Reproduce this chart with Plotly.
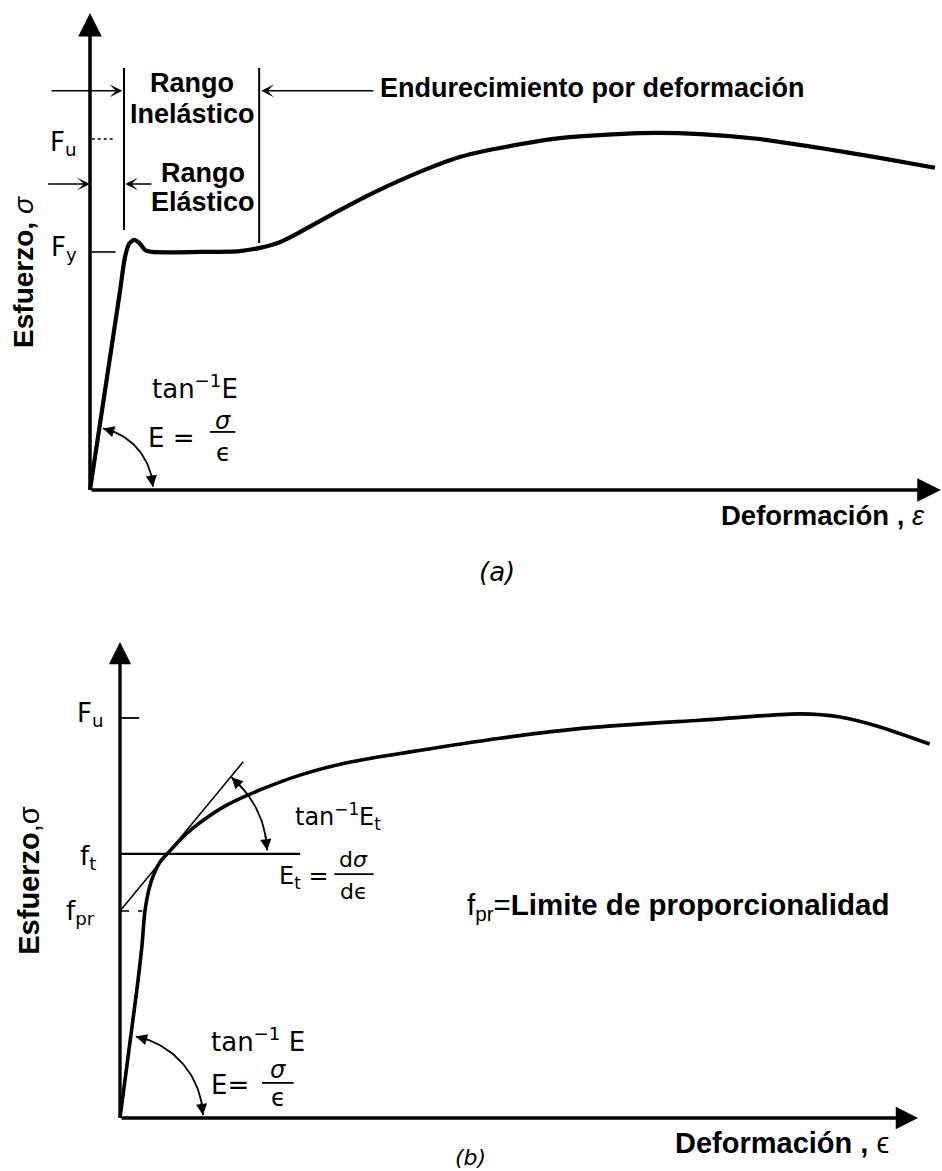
import numpy as np
import plotly.graph_objects as go

# ---------------- data (arbitrary units) ----------------
# Panel (a): acero con punto de fluencia definido
a_strain = [0, 3.5, 4.1, 4.6, 5.2, 5.8, 6.5, 7.3, 12.9, 17.6, 20.0, 22.4, 24.7, 29.4,
            33.5, 38.8, 43.5, 48.2, 55.3, 64.7, 71.8, 78.8, 85.9, 92.9, 99.4]
a_stress = [0, 43.8, 51.6, 54.7, 55.6, 54.9, 53.3, 52.9, 52.9, 53.1, 53.8, 55.1, 57.3, 62.2,
            66.2, 70.7, 74.0, 76.0, 78.2, 79.3, 79.1, 78.0, 76.0, 73.8, 71.6]
a_Fy = 52.9
a_Fu = 78.0
a_elastic_end = 4.0      # fin del rango elástico
a_inelastic_end = 19.9   # fin del rango inelástico

# Panel (b): acero sin punto de fluencia definido
b_strain = [0, 2.1, 2.75, 3.1, 3.6, 4.1, 5.0, 5.9, 7.5, 9.1, 11.3, 13.4, 17.5, 22.5,
            28.8, 36.1, 47.5, 58.4, 72.5, 85.1, 90.0, 95.0, 101.2]
b_stress = [0, 28.4, 38.4, 45.8, 50.7, 53.6, 56.9, 58.7, 61.8, 64.4, 67.3, 69.6, 72.9, 76.2,
            79.1, 81.3, 84.4, 86.7, 88.4, 89.8, 89.1, 86.9, 83.1]
b_Fu = 88.9
b_ft = 58.7
b_fpr = 46.0
b_t_strain = 5.9          # punto de tangencia (deformación)

# pixel per unit (for circular arcs on anisotropic axes)
SXA, SYA = 8.5, 4.5
SXB, SYB = 8.0, 4.5

BOLD = "Liberation Sans, Arial, sans-serif"
ROUND = "DejaVu Sans, Noto Sans, sans-serif"

fig = go.Figure()

# curves
fig.add_trace(go.Scatter(x=a_strain, y=a_stress, mode="lines", xaxis="x", yaxis="y",
                         line=dict(color="black", width=4.2, shape="spline", smoothing=0.7),
                         hoverinfo="skip", showlegend=False))
fig.add_trace(go.Scatter(x=b_strain, y=b_stress, mode="lines", xaxis="x2", yaxis="y2",
                         line=dict(color="black", width=3.6, shape="spline", smoothing=0.7),
                         hoverinfo="skip", showlegend=False))

# tangent line in (b)
slope = (b_ft - b_fpr) / b_t_strain
tx = [0, 15.4]
fig.add_trace(go.Scatter(x=tx, y=[b_fpr + slope * v for v in tx], mode="lines", xaxis="x2", yaxis="y2",
                         line=dict(color="black", width=1.6), hoverinfo="skip", showlegend=False))


def arc(cx, cy, r, t0, t1, sx, sy, n=40):
    t = np.radians(np.linspace(t0, t1, n))
    return cx + r * np.cos(t) / sx, cy + r * np.sin(t) / sy


def arrow(x, y, ax, ay, xa, ya, w, size, head):
    fig.add_annotation(x=x, y=y, ax=ax, ay=ay, xref=xa, yref=ya, axref=xa, ayref=ya,
                       text="", showarrow=True, arrowhead=head, arrowsize=size,
                       arrowwidth=w, arrowcolor="black", standoff=0, startstandoff=0)


def add_arc(cx, cy, r, t0, t1, sx, sy, xa, ya):
    x, y = arc(cx, cy, r, t0, t1, sx, sy)
    fig.add_trace(go.Scatter(x=x, y=y, mode="lines", xaxis=xa, yaxis=ya,
                             line=dict(color="black", width=1.8), hoverinfo="skip", showlegend=False))
    for a_tip, a_tail in ((t0, t0 + 10), (t1, t1 - 10)):
        (xt,), (yt,) = arc(cx, cy, r, a_tip, a_tip, sx, sy, 1)
        (xb,), (yb,) = arc(cx, cy, r, a_tail, a_tail, sx, sy, 1)
        arrow(xt, yt, xb, yb, xa, ya, 1.6, 1.4, 2)


def line(x0, y0, x1, y1, xa, ya, w=2, dash="solid"):
    fig.add_shape(type="line", x0=x0, y0=y0, x1=x1, y1=y1, xref=xa, yref=ya,
                  line=dict(color="black", width=w, dash=dash))


def text(x, y, s, xa, ya, size=27, fam=BOLD, angle=0, xanchor="center"):
    fig.add_annotation(x=x, y=y, xref=xa, yref=ya, text=s, showarrow=False,
                       font=dict(family=fam, size=size, color="black"),
                       textangle=angle, xanchor=xanchor, yanchor="middle")


# ---------------- panel (a) ----------------
arrow(0, 106, 0, 0, "x", "y", 3.5, 1.35, 2)            # eje de esfuerzo
arrow(100.1, 0, 0, 0, "x", "y", 3.5, 1.35, 2)          # eje de deformación
line(0.2, a_Fy, 3.0, a_Fy, "x", "y", 1.6)
line(0.2, a_Fu, 3.0, a_Fu, "x", "y", 1.6, "dot")
line(a_elastic_end, 57.8, a_elastic_end, 93.8, "x", "y", 2)
line(a_inelastic_end, 54.9, a_inelastic_end, 93.8, "x", "y", 2)
arrow(a_elastic_end - 0.2, 88.7, -4.7, 88.7, "x", "y", 1.5, 1.4, 3)
arrow(0, 68.0, -5.1, 68.0, "x", "y", 1.5, 1.4, 3)
arrow(a_elastic_end + 0.15, 68.0, 7.4, 68.0, "x", "y", 1.5, 1.4, 3)
arrow(a_inelastic_end + 0.25, 88.7, 33.5, 88.7, "x", "y", 1.5, 1.4, 3)
add_arc(0, 0, 63, 3, 78, SXA, SYA, "x", "y")

text(12.0, 90.4, "<b>Rango</b>", "x", "y")
text(12.0, 83.6, "<b>Inelástico</b>", "x", "y")
text(13.3, 70.4, "<b>Rango</b>", "x", "y")
text(13.3, 63.9, "<b>Elástico</b>", "x", "y")
text(59.1, 89.3, "<b>Endurecimiento por deformación</b>", "x", "y")
text(-3.1, 77.0, "F<sub>u</sub>", "x", "y", 26, ROUND)
text(-3.1, 53.6, "F<sub>y</sub>", "x", "y", 26, ROUND)
text(12.3, 22.9, "tan<sup>−1</sup>E", "x", "y", 26, ROUND)
text(9.5, 11.6, "E =", "x", "y", 26, ROUND)
text(15.65, 15.4, "<i>σ</i>", "x", "y", 24, ROUND)
text(15.65, 8.3, "ϵ", "x", "y", 24, ROUND)
line(14.1, 12.9, 17.1, 12.9, "x", "y", 1.8)
text(-7.8, 48.4, "<b>Esfuerzo,</b> <i>σ</i>", "x", "y", 28, BOLD, -90)
text(86.2, -5.6, "<b>Deformación</b> <b>,</b> <i>ε</i>", "x", "y", 27.5)
text(47.9, -18.2, "<i>(a)</i>", "x", "y", 26, ROUND)

# ---------------- panel (b) ----------------
arrow(0, 105.8, 0, 0, "x2", "y2", 3.3, 1.35, 2)
arrow(99.75, 0, 0, 0, "x2", "y2", 3.3, 1.35, 2)
line(0, b_Fu, 2.4, b_Fu, "x2", "y2", 1.8)
line(0, b_ft, 22.5, b_ft, "x2", "y2", 2.2)
line(0, b_fpr, 2.8, b_fpr, "x2", "y2", 1.4, "dash")
add_arc(0, 0, 83, 2, 79, SXB, SYB, "x2", "y2")
add_arc(b_t_strain, b_ft, 100, 2, 50, SXB, SYB, "x2", "y2")

text(-3.75, 89.6, "F<sub>u</sub>", "x2", "y2", 26, ROUND)
text(-4.0, 57.8, "f<sub>t</sub>", "x2", "y2", 26, ROUND)
text(-5.0, 45.6, "f<sub>pr</sub>", "x2", "y2", 26, ROUND)
text(27.3, 66.9, "tan<sup>−1</sup>E<sub>t</sub>", "x2", "y2", 24, ROUND)
text(23.0, 53.4, "E<sub>t</sub> =", "x2", "y2", 24, ROUND)
text(29.2, 57.4, "d<i>σ</i>", "x2", "y2", 22, ROUND)
text(29.2, 50.3, "dϵ", "x2", "y2", 22, ROUND)
line(26.8, 54.2, 31.7, 54.2, "x2", "y2", 1.8)
text(69.7, 46.9, "f<sub>pr</sub>=<b>Limite de proporcionalidad</b>", "x2", "y2", 29.5)
text(17.2, 17.3, "tan<sup>−1</sup> E", "x2", "y2", 26, ROUND)
text(13.8, 7.3, "E=", "x2", "y2", 26, ROUND)
text(19.8, 10.7, "<i>σ</i>", "x2", "y2", 24, ROUND)
text(19.8, 4.4, "ϵ", "x2", "y2", 24, ROUND)
line(17.75, 7.8, 21.7, 7.8, "x2", "y2", 1.8)
text(-11.4, 52.9, "<b>Esfuerzo</b>,σ", "x2", "y2", 29, BOLD, -90)
text(82.8, -5.6, "<b>Deformación</b> <b>,</b> ϵ", "x2", "y2", 29)
text(43.75, -8.7, "<i>(b)</i>", "x2", "y2", 22, ROUND)

top_dom = 1 - 600 / 1171
ax_common = dict(visible=False, fixedrange=True, showgrid=False, zeroline=False)
fig.update_layout(
    width=942, height=1171, margin=dict(l=0, r=0, t=0, b=0),
    paper_bgcolor="white", plot_bgcolor="white", showlegend=False,
    xaxis=dict(domain=[0, 1], range=[-90 / SXA, 852 / SXA], anchor="y", **ax_common),
    yaxis=dict(domain=[top_dom, 1], range=[-110 / SYA, 490 / SYA], anchor="x", **ax_common),
    xaxis2=dict(domain=[0, 1], range=[-120 / SXB, 822 / SXB], anchor="y2", **ax_common),
    yaxis2=dict(domain=[0, top_dom], range=[-53 / SYB, 518 / SYB], anchor="x2", **ax_common),
)

fig.write_html("out.html", config={"displayModeBar": False},
               post_script="document.body.style.margin='0';document.documentElement.style.margin='0';")
